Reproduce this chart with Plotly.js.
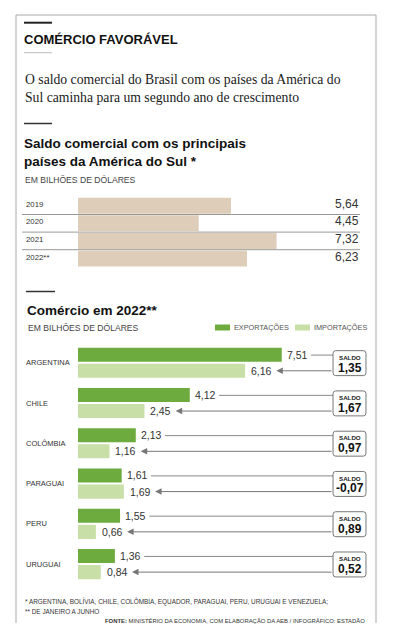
<!DOCTYPE html>
<html><head><meta charset="utf-8">
<script src="https://cdn.plot.ly/plotly-3.0.1.min.js"></script>
<style>html,body{margin:0;padding:0;background:#fff}#chart{width:393px;height:640px}</style>
</head><body><div id="chart"></div>
<script>
// ---- data ----
const years = ['2019', '2020', '2021', '2022**'];
const saldoAnual = [5.64, 4.45, 7.32, 6.23];
const countries = ['ARGENTINA', 'CHILE', 'COLÔMBIA', 'PARAGUAI', 'PERU', 'URUGUAI'];
const exportacoes = [7.51, 4.12, 2.13, 1.61, 1.55, 1.36];
const importacoes = [6.16, 2.45, 1.16, 1.69, 0.66, 0.84];
const saldo2022 = [1.35, 1.67, 0.97, -0.07, 0.89, 0.52];

// ---- style ----
const W = 393, H = 640;
const px = x => x / W, py = y => 1 - y / H;
const SANS = 'Liberation Sans, Arial, sans-serif';
const SERIF = 'Liberation Serif, Times New Roman, serif';
const BEIGE = '#ddcdb9', GREEN = '#6dab3f', LIGHT = '#c8e0a8';
const fmt = v => v.toFixed(2).replace('.', ',');
const XR = [0, 10.763];

const traces = [
  {type: 'bar', orientation: 'h', x: saldoAnual, y: years, xaxis: 'x', yaxis: 'y',
   marker: {color: BEIGE}, width: 0.91, offset: -0.455, hoverinfo: 'skip'},
  {type: 'bar', orientation: 'h', x: exportacoes, y: countries, xaxis: 'x2', yaxis: 'y2',
   marker: {color: GREEN}, width: 0.35, offset: -0.375, hoverinfo: 'skip'},
  {type: 'bar', orientation: 'h', x: importacoes, y: countries, xaxis: 'x2', yaxis: 'y2',
   marker: {color: LIGHT}, width: 0.35, offset: 0.025, hoverinfo: 'skip'}
];

const shapes = [];
const ann = [];
const pline = (x0, y0, x1, y1, color, w) => shapes.push({type: 'line', xref: 'paper', yref: 'paper',
  x0: px(x0), y0: py(y0), x1: px(x1), y1: py(y1), line: {color: color, width: w}});
const ptext = (x, y, text, font, xanchor) => ann.push({xref: 'paper', yref: 'paper', x: px(x), y: py(y),
  xanchor: xanchor || 'left', yanchor: 'middle', text: text, showarrow: false, font: font, align: 'left', borderpad: 0});

// frame & rules
pline(16, 15, 376, 15, '#aaa', 1);
pline(16, 15, 16, 623, '#aaa', 1);
pline(376, 15, 376, 623, '#aaa', 1);
pline(24, 22.7, 52, 22.7, '#222', 2);
pline(24, 52.7, 52, 52.7, '#bbb', 1);
pline(24, 123.5, 52, 123.5, '#333', 1.5);
pline(26, 291.5, 55, 291.5, '#333', 1.5);

// headings
ptext(23, 39.5, 'COMÉRCIO FAVORÁVEL', {family: SANS, size: 13, color: '#111', weight: 700});
ptext(24, 88.5, 'O saldo comercial do Brasil com os países da América do<br>Sul caminha para um segundo ano de crescimento',
  {family: SERIF, size: 13.7, color: '#1a1a1a'});
ptext(23, 152.5, 'Saldo comercial com os principais<br>países da América do Sul *', {family: SANS, size: 13.5, color: '#111', weight: 700});
ptext(24, 179.5, 'EM BILHÕES DE DÓLARES', {family: SANS, size: 8.6, color: '#444'});
ptext(26, 310, 'Comércio em 2022**', {family: SANS, size: 13.5, color: '#111', weight: 700});
ptext(27, 327.5, 'EM BILHÕES DE DÓLARES', {family: SANS, size: 8.6, color: '#444'});

// legend
shapes.push({type: 'rect', xref: 'paper', yref: 'paper', x0: px(215), x1: px(230), y0: py(330.5), y1: py(324.5), fillcolor: GREEN, line: {width: 0}});
shapes.push({type: 'rect', xref: 'paper', yref: 'paper', x0: px(295), x1: px(310), y0: py(330.5), y1: py(324.5), fillcolor: LIGHT, line: {width: 0}});
ptext(233, 327.5, 'EXPORTAÇÕES', {family: SANS, size: 7.3, color: '#555'});
ptext(313, 327.5, 'IMPORTAÇÕES', {family: SANS, size: 7.3, color: '#555'});

// footnotes
ptext(24, 601, '* ARGENTINA, BOLÍVIA, CHILE, COLÔMBIA, EQUADOR, PARAGUAI, PERU, URUGUAI E VENEZUELA;', {family: SANS, size: 6.4, color: '#333'});
ptext(24, 611.7, '** DE JANEIRO A JUNHO', {family: SANS, size: 6.4, color: '#333'});
ptext(366, 620.5, '<b>FONTE:</b> MINISTÉRIO DA ECONOMIA, COM ELABORAÇÃO DA AEB / INFOGRÁFICO: ESTADÃO', {family: SANS, size: 5.9, color: '#333'}, 'right');

// top chart: separators, year labels, values
for (let i = 0; i < years.length; i++) {
  if (i < years.length - 1) {
    shapes.push({type: 'line', layer: 'below', xref: 'paper', yref: 'y', x0: px(22), x1: px(360), y0: i + 0.5, y1: i + 0.5,
      line: {color: '#999', width: 1}});
  }
  ann.push({xref: 'paper', yref: 'y', x: px(24), y: i, yshift: 1.5, xanchor: 'left', yanchor: 'middle',
    text: years[i], showarrow: false, font: {family: SANS, size: 7.8, color: '#333'}});
  ann.push({xref: 'paper', yref: 'y', x: px(361), y: i, yshift: 2, xanchor: 'right', yanchor: 'middle',
    text: fmt(saldoAnual[i]), showarrow: false, font: {family: SANS, size: 12, color: '#333'}});
}

// bottom chart
const BOX_L = 9.40, BOX_R = 10.615, rx = 0.1, ry = 0.07;
for (let i = 0; i < countries.length; i++) {
  const e = exportacoes[i], m = importacoes[i];
  ann.push({xref: 'paper', yref: 'y2', x: px(24), y: i, xanchor: 'left', yanchor: 'middle',
    text: countries[i], showarrow: false, font: {family: SANS, size: 7.5, color: '#333'}});
  ann.push({xref: 'x2', yref: 'y2', x: e, y: i - 0.2, xshift: 3, xanchor: 'left', yanchor: 'middle',
    text: fmt(e), showarrow: false, font: {family: SANS, size: 10.5, color: '#333'}});
  ann.push({xref: 'x2', yref: 'y2', x: m, y: i + 0.2, xshift: 4, xanchor: 'left', yanchor: 'middle',
    text: fmt(m), showarrow: false, font: {family: SANS, size: 10.5, color: '#333'}});
  // export connector line
  shapes.push({type: 'line', xref: 'x2', yref: 'y2', x0: e + 1.08, x1: BOX_L, y0: i - 0.19, y1: i - 0.19,
    line: {color: '#888', width: 1}});
  // import arrow
  ann.push({xref: 'x2', yref: 'y2', axref: 'x2', ayref: 'y2', x: m + 1.15, y: i + 0.2, ax: BOX_L, ay: i + 0.2,
    text: '', showarrow: true, arrowhead: 2, arrowsize: 1.3, arrowwidth: 1, arrowcolor: '#777', standoff: 0, startstandoff: 0});
  // saldo box
  const x0 = BOX_L, x1 = BOX_R, y0 = i - 0.3, y1 = i + 0.32;
  shapes.push({type: 'path', xref: 'x2', yref: 'y2', fillcolor: '#fff', line: {color: '#777', width: 1},
    path: `M${x0 + rx},${y0} L${x1 - rx},${y0} Q${x1},${y0} ${x1},${y0 + ry} L${x1},${y1 - ry} Q${x1},${y1} ${x1 - rx},${y1} ` +
          `L${x0 + rx},${y1} Q${x0},${y1} ${x0},${y1 - ry} L${x0},${y0 + ry} Q${x0},${y0} ${x0 + rx},${y0} Z`});
  ann.push({xref: 'x2', yref: 'y2', x: (x0 + x1) / 2, y: i - 0.135, xanchor: 'center', yanchor: 'middle',
    text: '<b>SALDO</b>', showarrow: false, font: {family: SANS, size: 6.2, color: '#222'}});
  ann.push({xref: 'x2', yref: 'y2', x: (x0 + x1) / 2, y: i + 0.12, xanchor: 'center', yanchor: 'middle',
    text: '<b>' + fmt(saldo2022[i]) + '</b>', showarrow: false, font: {family: SANS, size: 12, color: '#111'}});
}

const hidden = {showgrid: false, zeroline: false, showticklabels: false, ticks: '', showline: false};
const layout = {
  width: W, height: H, margin: {l: 0, r: 0, t: 0, b: 0},
  paper_bgcolor: '#fff', plot_bgcolor: 'rgba(0,0,0,0)', showlegend: false, barmode: 'overlay',
  xaxis: Object.assign({domain: [px(78), px(370)], range: XR, anchor: 'y'}, hidden),
  yaxis: Object.assign({type: 'category', domain: [py(267.3), py(196.9)], range: [3.5, -0.5], anchor: 'x'}, hidden),
  xaxis2: Object.assign({domain: [px(78), px(370)], range: XR, anchor: 'y2'}, hidden),
  yaxis2: Object.assign({type: 'category', domain: [py(584.2), py(342.6)], range: [5.5, -0.5], anchor: 'x2'}, hidden),
  shapes: shapes, annotations: ann
};
Plotly.newPlot('chart', traces, layout, {staticPlot: true, displayModeBar: false});
</script></body></html>
